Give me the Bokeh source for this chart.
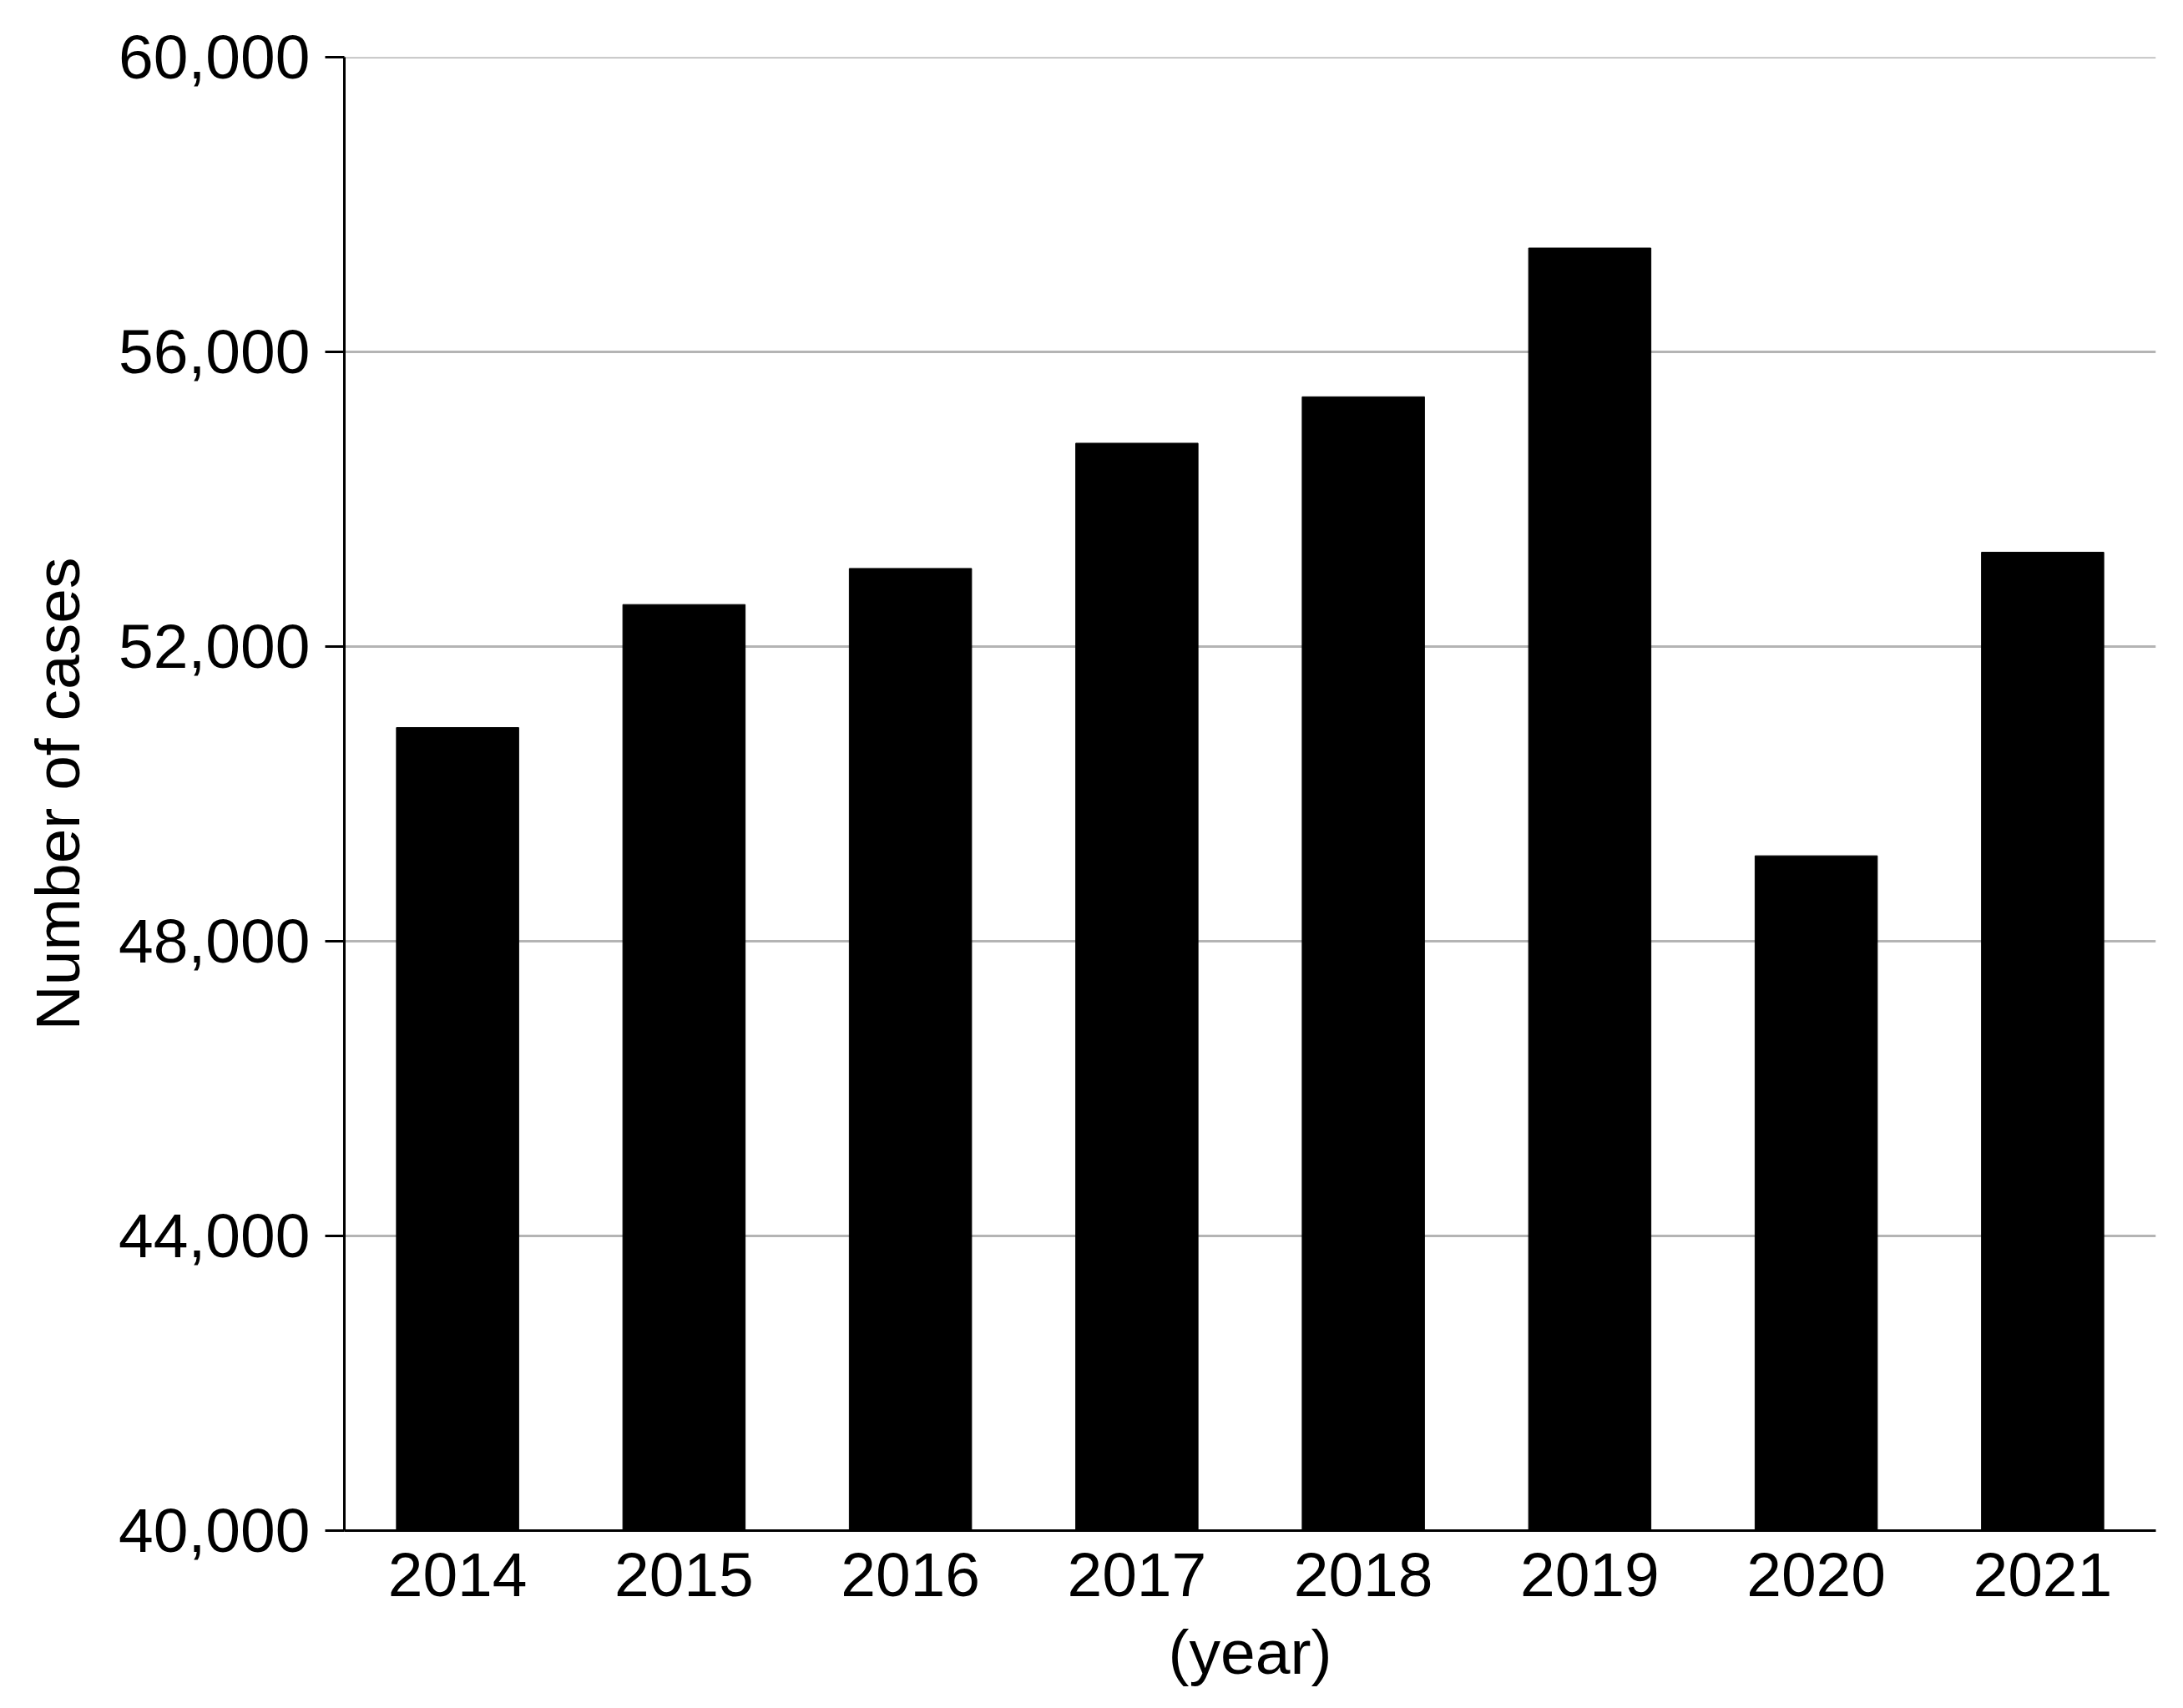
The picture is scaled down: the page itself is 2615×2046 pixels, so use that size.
from bokeh.plotting import figure
from bokeh.models import Range1d, FixedTicker, NumeralTickFormatter, ColumnDataSource, Span
from bokeh.embed import file_html
from bokeh.resources import INLINE

years = ["2014", "2015", "2016", "2017", "2018", "2019", "2020", "2021"]
cases = [50900, 52570, 53060, 54760, 55390, 57410, 49160, 53280]
y_ticks = [40000, 44000, 48000, 52000, 56000, 60000]

FONT = "Liberation Sans"
FS = "75px"
GRID = "#b4b4b4"

src = ColumnDataSource(data=dict(year=years, cases=cases))

p = figure(
    x_range=years,
    y_range=Range1d(y_ticks[0], y_ticks[-1]),
    frame_width=2170,
    frame_height=1765,
    min_border_left=412,
    min_border_right=25,
    min_border_top=68,
    min_border_bottom=100,
    output_backend="svg",
    toolbar_location=None,
)
p.outline_line_color = None
p.background_fill_color = "white"
p.border_fill_color = "white"

p.vbar(x="year", top="cases", bottom=y_ticks[0], width=0.54, source=src,
       fill_color="black", line_color="black", line_width=1)

p.xgrid.grid_line_color = None
p.ygrid.grid_line_color = GRID
p.ygrid.grid_line_width = 3
p.add_layout(Span(location=y_ticks[-1], dimension="width", line_color=GRID,
                  line_width=3, level="underlay"))
p.yaxis.ticker = FixedTicker(ticks=y_ticks)
p.yaxis.formatter = NumeralTickFormatter(format="0,0")

for ax in (p.xaxis[0], p.yaxis[0]):
    ax.axis_line_color = "black"
    ax.axis_line_width = 3
    ax.major_tick_line_color = "black"
    ax.major_tick_line_width = 3
    ax.minor_tick_line_color = None
    ax.major_tick_in = 0
    ax.major_label_text_font = FONT
    ax.major_label_text_font_size = FS
    ax.major_label_text_color = "black"
    ax.axis_label_text_font = FONT
    ax.axis_label_text_font_size = FS
    ax.axis_label_text_font_style = "normal"
    ax.axis_label_text_color = "black"

p.yaxis.major_tick_out = 23
p.yaxis.major_label_standoff = 18
p.yaxis.axis_label = "Number of cases"
p.yaxis.axis_label_standoff = 28

p.xaxis.major_tick_out = 0
p.xaxis.major_label_standoff = 27
p.xaxis.axis_label = "(year)"
p.xaxis.axis_label_standoff = 22

open("out.html", "w").write(file_html(p, INLINE))
